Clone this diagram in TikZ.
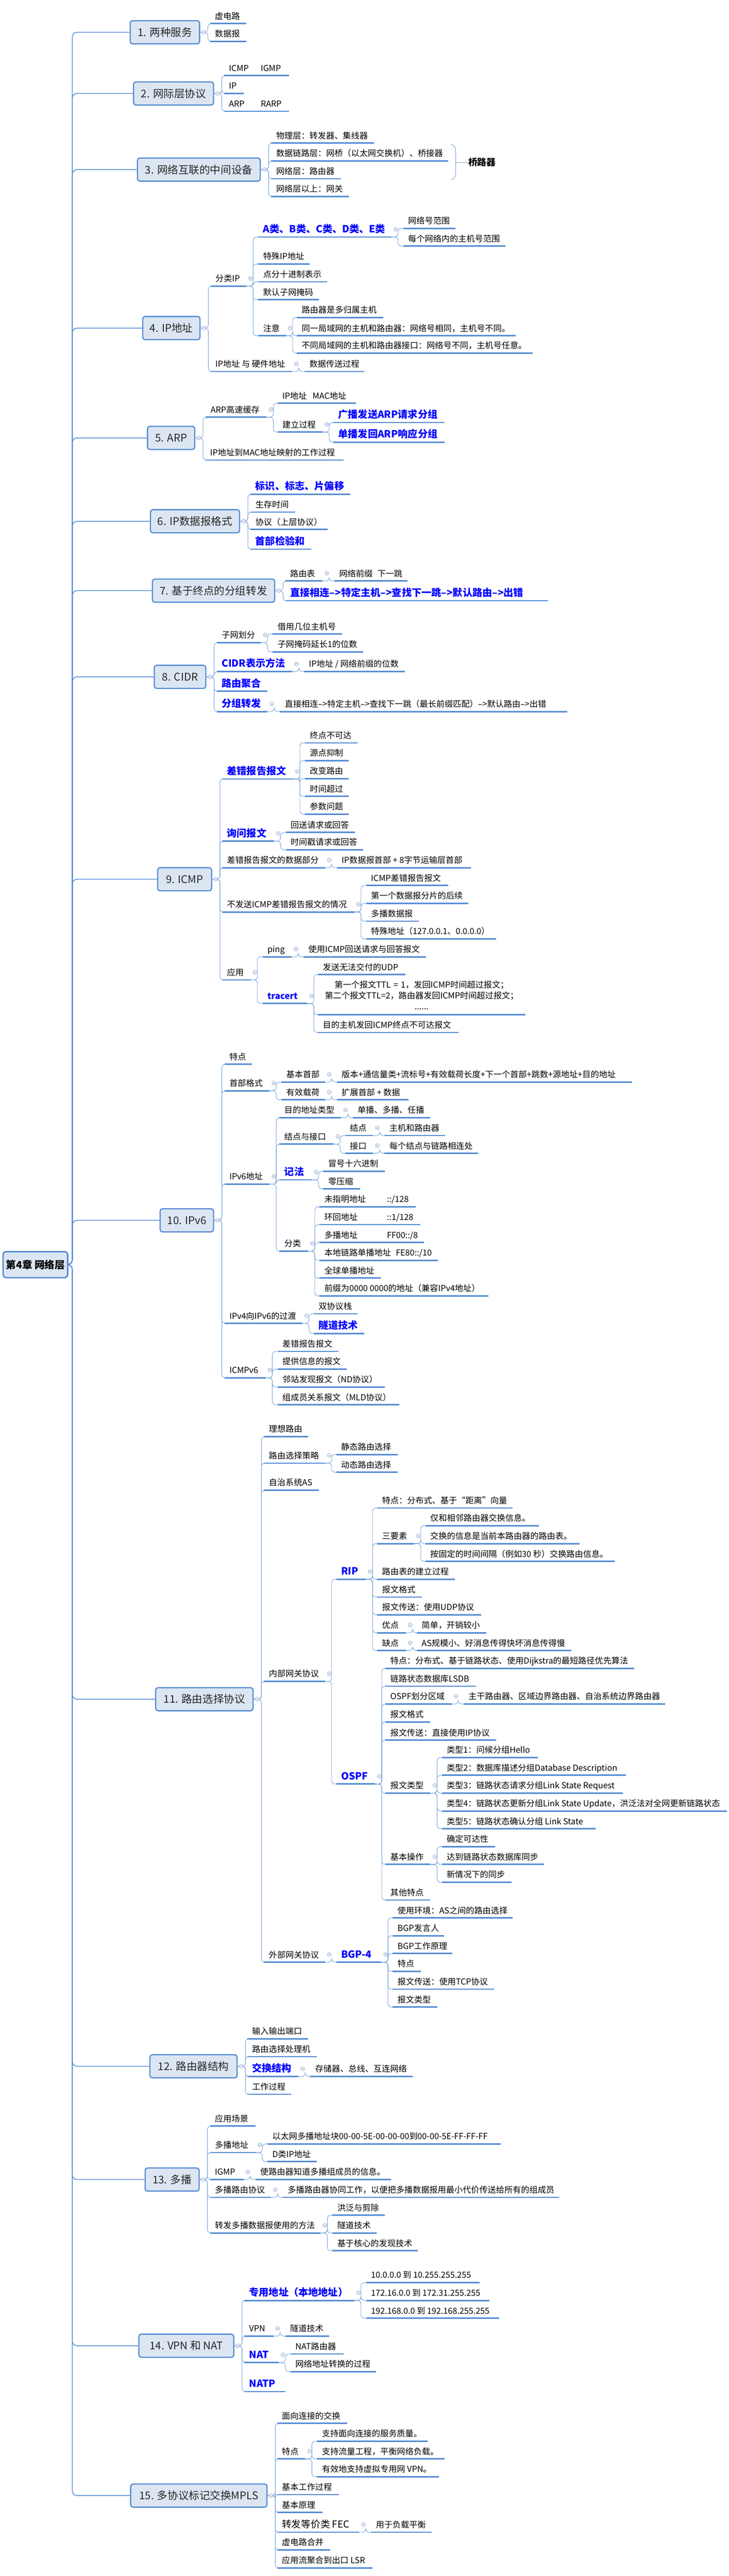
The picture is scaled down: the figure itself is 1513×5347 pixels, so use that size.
\documentclass[tikz,border=0pt]{standalone}
\usepackage{fontspec}
\setmainfont{Noto Sans CJK SC}
\usetikzlibrary{calc}
\definecolor{ulb}{RGB}{86,141,212}
\definecolor{cnb}{RGB}{120,163,220}
\definecolor{boxf}{RGB}{220,230,242}
\definecolor{circ}{RGB}{140,165,205}
\definecolor{btext}{RGB}{0,0,255}
\definecolor{boxt}{RGB}{38,38,38}
\newcommand\fs[1]{\fontsize{#1}{#1}\selectfont}
\newcommand\tp[6][]{\pgfmathsetmacro\tpw{#4-#3-20}\node[topic,#1] (#2) at (#3,#5) {\makebox[\tpw pt][l]{#6}};}
\newcommand\bx[5]{\node[box,minimum width=#4pt] (#1) at (#2,#3) {#5};}
\newcommand\kids[2]{\foreach \c in {#2}{\draw[cn] (#1.south east) -- ++(14,0) |- (\c.south west);}}
\newcommand\bkids[2]{\foreach \c in {#2}{\draw[cn] (#1.east) -- ++(16,0) |- (\c.south west);}}
\newcommand\cu[1]{\node[col] (c-#1) at ([shift={(9,-16)}]#1.south east) {};}
\newcommand\cb[1]{\node[col] (c-#1) at ([xshift=7pt]#1.east) {};}
\begin{document}
\begin{tikzpicture}[x=1pt,y=-1pt,
  ul/.style={draw=ulb,line width=3pt},
  topicbase/.style={anchor=south west,inner xsep=10pt,inner ysep=6pt,
     append after command={(\tikzlastnode.south west) edge[ul] (\tikzlastnode.south east)}},
  topic/.style={topicbase,text height=14pt,text depth=3pt,font=\fs{17.3}},
  bb/.style={font=\fs{20.5}\bfseries,text=btext,text height=16pt},
  cn/.style={draw=cnb,line width=1pt,rounded corners=7pt},
  sp/.style={draw=ulb,line width=1.6pt,rounded corners=10pt},
  box/.style={draw=ulb,line width=2.5pt,fill=boxf,rounded corners=5pt,minimum height=48pt,anchor=west,font=\fs{22},text=boxt,inner xsep=0pt},
  col/.style={circle,draw=circ,fill=white,line width=0.8pt,minimum size=8pt,inner sep=0pt,
     path picture={\draw[circ,line width=0.8pt] ([xshift=-2.3pt]path picture bounding box.center) -- ([xshift=2.3pt]path picture bounding box.center);}}
]
\fill[white] (0,0) rectangle (1513,5347);
\useasboundingbox (0,0) rectangle (1513,5347);

% root
\node[draw=ulb,line width=3pt,fill=boxf,rounded corners=6pt,minimum width=134pt,minimum height=54pt,anchor=west,font=\fs{21}\bfseries,text=black,inner sep=0pt] (root) at (5,2625) {第4章 网络层};

% level-1 boxes
\bx{b1}{269}{67}{144}{1. 两种服务}
\bx{b2}{276}{194}{166}{2. 网际层协议}
\bx{b3}{284}{352}{255}{3. 网络互联的中间设备}
\bx{b4}{295}{681}{119}{4. IP地址}
\bx{b5}{305}{909}{98}{5. ARP}
\bx{b6}{311}{1082}{185}{6. IP数据报格式}
\bx{b7}{315}{1226}{254}{7. 基于终点的分组转发}
\bx{b8}{319}{1405}{107}{8. CIDR}
\bx{b9}{326}{1825}{112}{9. ICMP}
\bx{b10}{331}{2533}{111}{10. IPv6}
\bx{b11}{322}{3527}{202}{11. 路由选择协议}
\bx{b12}{310}{4289}{181}{12. 路由器结构}
\bx{b13}{300}{4524}{112}{13. 多播}
\bx{b14}{287}{4869}{197}{14. VPN 和 NAT}
\bx{b15}{270}{5180}{283}{15. 多协议标记交换MPLS}

\foreach \b in {b1,b2,b3,b4,b5,b6,b7,b8,b9,b10,b11,b12,b13,b14,b15}{\draw[sp] (root.east) -- ++(8,0) |- (\b.west);}

% 1
\tp{t1a}{436}{511}{49}{虚电路}
\tp{t1b}{436}{511}{86}{数据报}
% 2
\tp{t2a}{465}{600}{157}{\makebox[66pt][l]{ICMP}IGMP}
\tp{t2b}{465}{505}{194}{IP}
\tp{t2c}{465}{600}{231}{\makebox[66pt][l]{ARP}RARP}
% 3
\tp{t3a}{563}{776}{297}{物理层：转发器、集线器}
\tp{t3b}{563}{930}{334}{数据链路层：网桥（以太网交换机）、桥接器}
\tp{t3c}{563}{707}{371}{网络层：路由器}
\tp{t3d}{563}{724}{408}{网络层以上：网关}
\node[anchor=west,inner sep=0pt,font=\fs{19}\bfseries] (sum) at (972,337) {桥路器};
\draw[cn,rounded corners=0pt] (936,300) to[out=0,in=90] (946,314) -- (946,359) to[out=-90,in=0] (936,373);
\draw[cn] (946,337) -- (sum.west);
% 4
\tp{t4a}{437}{511}{594}{分类IP}
\tp[bb]{t4a1}{536}{812}{492}{A类、B类、C类、D类、E类}
\tp{t4a1a}{837}{945}{474}{网络号范围}
\tp{t4a1b}{837}{1049}{511}{每个网络内的主机号范围}
\tp{t4a2}{536}{642}{548}{特殊IP地址}
\tp{t4a3}{536}{679}{585}{点分十进制表示}
\tp{t4a4}{536}{662}{622}{默认子网掩码}
\tp{t4a5}{536}{593}{697}{注意}
\tp{t4a5a}{616}{795}{659}{路由器是多归属主机}
\tp{t4a5b}{616}{1070}{697}{同一局域网的主机和路由器：网络号相同，主机号不同。}
\tp{t4a5c}{616}{1105}{733}{不同局域网的主机和路由器接口：网络号不同，主机号任意。}
\tp{t4b}{437}{606}{771}{IP地址 与 硬件地址}
\tp{t4b1}{632}{756}{771}{数据传送过程}
% 5
\tp{t5a}{427}{553}{866}{ARP高速缓存}
\tp{t5a1}{576}{739}{837}{IP地址\hspace{12pt}MAC地址}
\tp{t5a2}{576}{669}{897}{建立过程}
\tp[bb]{t5a2a}{692}{922}{877}{广播发送ARP请求分组}
\tp[bb]{t5a2b}{692}{922}{918}{单播发回ARP响应分组}
\tp{t5b}{426}{713}{955}{IP地址到MAC地址映射的工作过程}
% 6
\tp[bb]{t6a}{520}{727}{1026}{标识、标志、片偏移}
\tp{t6b}{520}{612}{1063}{生存时间}
\tp{t6c}{520}{680}{1099}{协议（上层协议）}
\tp[bb]{t6d}{520}{646}{1140}{首部检验和}
% 7
\tp{t7a}{592}{669}{1206}{路由表}
\tp{t7a1}{694}{846}{1206}{网络前缀\hspace{10pt}下一跳}
\tp[bb]{t7b}{592}{1137}{1247}{直接相连-->特定主机-->查找下一跳-->默认路由-->出错}
% 8
\tp{t8a}{450}{541}{1334}{子网划分}
\tp{t8a1}{566}{710}{1316}{借用几位主机号}
\tp{t8a2}{566}{754}{1353}{子网掩码延长1的位数}
\tp[bb]{t8b}{450}{606}{1394}{CIDR表示方法}
\tp{t8b1}{631}{840}{1394}{IP地址 / 网络前缀的位数}
\tp[bb]{t8c}{450}{555}{1435}{路由聚合}
\tp[bb]{t8d}{450}{555}{1477}{分组转发}
\tp{t8d1}{581}{1177}{1477}{直接相连-->特定主机-->查找下一跳（最长前缀匹配）-->默认路由-->出错}
% 9
\tp[bb]{t9a}{461}{608}{1617}{差错报告报文}
\tp{t9a1}{633}{742}{1542}{终点不可达}
\tp{t9a2}{633}{724}{1579}{源点抑制}
\tp{t9a3}{633}{724}{1616}{改变路由}
\tp{t9a4}{633}{724}{1653}{时间超过}
\tp{t9a5}{633}{724}{1690}{参数问题}
\tp[bb]{t9b}{461}{568}{1746}{询问报文}
\tp{t9b1}{593}{736}{1728}{回送请求或回答}
\tp{t9b2}{593}{754}{1764}{时间戳请求或回答}
\tp{t9c}{461}{674}{1801}{差错报告报文的数据部分}
\tp{t9c1}{699}{977}{1801}{IP数据报首部 + 8字节运输层首部}
\tp{t9d}{461}{735}{1893}{不发送ICMP差错报告报文的情况}
\tp{t9d1}{760}{930}{1838}{ICMP差错报告报文}
\tp{t9d2}{760}{972}{1875}{第一个数据报分片的后续}
\tp{t9d3}{760}{869}{1912}{多播数据报}
\tp{t9d4}{760}{1029}{1949}{特殊地址（127.0.0.1、0.0.0.0）}
\tp{t9e}{461}{520}{2034}{应用}
\tp{t9e1}{545}{605}{1986}{ping}
\tp{t9e1a}{630}{884}{1986}{使用ICMP回送请求与回答报文}
\tp[bb,font=\fs{18}\bfseries]{t9e2}{545}{637}{2083}{tracert}
\tp{t9e2a}{660}{841}{2023}{发送无法交付的UDP}
\node[topicbase,inner ysep=10pt,font=\fontsize{17.3}{22.5}\selectfont,align=center,text width=410pt] (t9e2b) at (660,2106) {第一个报文TTL = 1，发回ICMP时间超过报文；\\第二个报文TTL=2，路由器发回ICMP时间超过报文；\\......};
\tp{t9e2c}{660}{951}{2143}{目的主机发回ICMP终点不可达报文}
% 10
\tp{t10a}{466}{523}{2209}{特点}
\tp{t10b}{466}{559}{2264}{首部格式}
\tp{t10b1}{584}{674}{2246}{基本首部}
\tp{t10b1a}{699}{1312}{2246}{版本+通信量类+流标号+有效载荷长度+下一个首部+跳数+源地址+目的地址}
\tp{t10b2}{584}{674}{2283}{有效载荷}
\tp{t10b2a}{699}{848}{2283}{扩展首部 + 数据}
\tp{t10c}{466}{559}{2458}{IPv6地址}
\tp{t10c1}{580}{708}{2320}{目的地址类型}
\tp{t10c1a}{732}{893}{2320}{单播、多播、任播}
\tp{t10c2}{580}{692}{2375}{结点与接口}
\tp{t10c2a}{716}{774}{2357}{结点}
\tp{t10c2a1}{798}{924}{2357}{主机和路由器}
\tp{t10c2b}{716}{774}{2394}{接口}
\tp{t10c2b1}{798}{992}{2394}{每个结点与链路相连处}
\tp[bb]{t10c3}{580}{647}{2449}{记法}
\tp{t10c3a}{671}{798}{2431}{冒号十六进制}
\tp{t10c3b}{671}{747}{2468}{零压缩}
\tp{t10c4}{580}{639}{2597}{分类}
\tp{t10c4a}{663}{863}{2505}{\makebox[130pt][l]{未指明地址}::/128}
\tp{t10c4b}{663}{872}{2542}{\makebox[130pt][l]{环回地址}::1/128}
\tp{t10c4c}{663}{880}{2579}{\makebox[130pt][l]{多播地址}FF00::/8}
\tp{t10c4d}{663}{909}{2616}{本地链路单播地址\hspace{10pt}FE80::/10}
\tp{t10c4e}{663}{790}{2653}{全球单播地址}
\tp{t10c4f}{663}{1013}{2690}{前缀为0000 0000的地址（兼容IPv4地址）}
\tp{t10d}{466}{627}{2747}{IPv4向IPv6的过渡}
\tp{t10d1}{651}{742}{2727}{双协议栈}
\tp[bb]{t10d2}{651}{756}{2768}{隧道技术}
\tp{t10e}{466}{551}{2860}{ICMPv6}
\tp{t10e1}{576}{702}{2805}{差错报告报文}
\tp{t10e2}{576}{719}{2842}{提供信息的报文}
\tp{t10e3}{576}{798}{2879}{邻站发现报文（ND协议）}
\tp{t10e4}{576}{828}{2916}{组成员关系报文（MLD协议）}
% 11
\tp{t11a}{548}{639}{2982}{理想路由}
\tp{t11b}{548}{674}{3037}{路由选择策略}
\tp{t11b1}{698}{825}{3019}{静态路由选择}
\tp{t11b2}{698}{825}{3056}{动态路由选择}
\tp{t11c}{548}{662}{3093}{自治系统AS}
\tp{t11d}{548}{674}{3490}{内部网关协议}
\tp[bb]{t11d1}{698}{759}{3278}{RIP}
\tp{r1}{783}{1064}{3130}{特点：分布式、基于“距离”向量}
\tp{r2}{783}{859}{3204}{三要素}
\tp{r2a}{883}{1118}{3167}{仅和相邻路由器交换信息。}
\tp{r2b}{883}{1203}{3204}{交换的信息是当前本路由器的路由表。}
\tp{r2c}{883}{1275}{3241}{按固定的时间间隔（例如30 秒）交换路由信息。}
\tp{r3}{783}{944}{3278}{路由表的建立过程}
\tp{r4}{783}{875}{3315}{报文格式}
\tp{r5}{783}{998}{3352}{报文传送：使用UDP协议}
\tp{r6}{783}{842}{3389}{优点}
\tp{r6a}{865}{1009}{3389}{简单，开销较小}
\tp{r7}{783}{842}{3426}{缺点}
\tp{r7a}{865}{1186}{3426}{AS规模小、好消息传得快坏消息传得慢}
\tp[bb]{t11d2}{698}{778}{3703}{OSPF}
\tp{o1}{800}{1316}{3463}{特点：分布式、基于链路状态、使用Dijkstra的最短路径优先算法}
\tp{o2}{800}{988}{3500}{链路状态数据库LSDB}
\tp{o3}{800}{937}{3537}{OSPF划分区域}
\tp{o3a}{962}{1380}{3537}{主干路由器、区域边界路由器、自治系统边界路由器}
\tp{o4}{800}{893}{3574}{报文格式}
\tp{o5}{800}{1029}{3612}{报文传送：直接使用IP协议}
\tp{o6}{800}{893}{3722}{报文类型}
\tp{o6a}{917}{1116}{3648}{类型1：问候分组Hello}
\tp{o6b}{917}{1299}{3685}{类型2：数据库描述分组Database Description}
\tp{o6c}{917}{1293}{3722}{类型3：链路状态请求分组Link State Request}
\tp{o6d}{917}{1509}{3759}{类型4：链路状态更新分组Link State Update，洪泛法对全网更新链路状态}
\tp{o6e}{917}{1236}{3796}{类型5：链路状态确认分组 Link State}
\tp{o7}{800}{893}{3870}{基本操作}
\tp{o7a}{917}{1027}{3833}{确定可达性}
\tp{o7b}{917}{1129}{3870}{达到链路状态数据库同步}
\tp{o7c}{917}{1061}{3907}{新情况下的同步}
\tp{o8}{800}{893}{3944}{其他特点}
\tp{t11e}{548}{674}{4073}{外部网关协议}
\tp[bb]{t11e1}{698}{791}{4073}{BGP-4}
\tp{g1}{815}{1064}{3981}{使用环境：AS之间的路由选择}
\tp{g2}{815}{921}{4018}{BGP发言人}
\tp{g3}{815}{939}{4055}{BGP工作原理}
\tp{g4}{815}{873}{4092}{特点}
\tp{g5}{815}{1025}{4129}{报文传送：使用TCP协议}
\tp{g6}{815}{908}{4166}{报文类型}
% 12
\tp{t12a}{513}{639}{4232}{输入输出端口}
\tp{t12b}{513}{657}{4269}{路由选择处理机}
\tp[bb]{t12c}{513}{619}{4310}{交换结构}
\tp{t12c1}{644}{856}{4310}{存储器、总线、互连网络}
\tp{t12d}{513}{604}{4347}{工作过程}
% 13
\tp{t13a}{436}{530}{4413}{应用场景}
\tp{t13b}{436}{530}{4468}{多播地址}
\tp{t13b1}{555}{1039}{4450}{以太网多播地址块00-00-5E-00-00-00到00-00-5E-FF-FF-FF}
\tp{t13b2}{555}{657}{4487}{D类IP地址}
\tp{t13c}{436}{505}{4524}{IGMP}
\tp{t13c1}{530}{811}{4524}{使路由器知道多播组成员的信息。}
\tp{t13d}{436}{562}{4561}{多播路由协议}
\tp{t13d1}{587}{1160}{4561}{多播路由器协同工作，以便把多播数据报用最小代价传送给所有的组成员}
\tp{t13e}{436}{665}{4635}{转发多播数据报使用的方法}
\tp{t13e1}{690}{798}{4598}{洪泛与剪除}
\tp{t13e2}{690}{781}{4635}{隧道技术}
\tp{t13e3}{690}{867}{4672}{基于核心的发现技术}
% 14
\tp[bb]{t14a}{507}{735}{4775}{专用地址（本地地址）}
\tp{t14a1}{760}{995}{4738}{10.0.0.0 到 10.255.255.255}
\tp{t14a2}{760}{1015}{4775}{172.16.0.0 到 172.31.255.255}
\tp{t14a3}{760}{1036}{4812}{192.168.0.0 到 192.168.255.255}
\tp{t14b}{507}{567}{4849}{VPN}
\tp{t14b1}{592}{683}{4849}{隧道技术}
\tp[bb]{t14c}{507}{578}{4904}{NAT}
\tp{t14c1}{603}{713}{4886}{NAT路由器}
\tp{t14c2}{603}{780}{4923}{网络地址转换的过程}
\tp[bb]{t14d}{507}{592}{4964}{NATP}
% 15
\tp{t15a}{575}{720}{5030}{面向连接的交换}
\tp{t15b}{575}{633}{5104}{特点}
\tp{t15b1}{658}{887}{5067}{支持面向连接的服务质量。}
\tp{t15b2}{658}{922}{5104}{支持流量工程，平衡网络负载。}
\tp{t15b3}{658}{911}{5141}{有效地支持虚拟专用网 VPN。}
\tp{t15c}{575}{703}{5178}{基本工作过程}
\tp{t15d}{575}{669}{5215}{基本原理}
\tp[font=\fs{20}]{t15e}{575}{745}{5256}{转发等价类 FEC}
\tp{t15e1}{770}{896}{5256}{用于负载平衡}
\tp{t15f}{575}{685}{5293}{虚电路合并}
\tp{t15g}{575}{773}{5330}{应用流聚合到出口 LSR}

% connectors from boxes
\bkids{b1}{t1a,t1b}
\bkids{b2}{t2a,t2b,t2c}
\bkids{b3}{t3a,t3b,t3c,t3d}
\bkids{b4}{t4a,t4b}
\bkids{b5}{t5a,t5b}
\bkids{b6}{t6a,t6b,t6c,t6d}
\bkids{b7}{t7a,t7b}
\bkids{b8}{t8a,t8b,t8c,t8d}
\bkids{b9}{t9a,t9b,t9c,t9d,t9e}
\bkids{b10}{t10a,t10b,t10c,t10d,t10e}
\bkids{b11}{t11a,t11b,t11c,t11d,t11e}
\bkids{b12}{t12a,t12b,t12c,t12d}
\bkids{b13}{t13a,t13b,t13c,t13d,t13e}
\bkids{b14}{t14a,t14b,t14c,t14d}
\bkids{b15}{t15a,t15b,t15c,t15d,t15e,t15f,t15g}
% connectors from topics
\kids{t4a}{t4a1,t4a2,t4a3,t4a4,t4a5}
\kids{t4a1}{t4a1a,t4a1b}
\kids{t4a5}{t4a5a,t4a5b,t4a5c}
\kids{t4b}{t4b1}
\kids{t5a}{t5a1,t5a2}
\kids{t5a2}{t5a2a,t5a2b}
\kids{t7a}{t7a1}
\kids{t8a}{t8a1,t8a2}
\kids{t8b}{t8b1}
\kids{t8d}{t8d1}
\kids{t9a}{t9a1,t9a2,t9a3,t9a4,t9a5}
\kids{t9b}{t9b1,t9b2}
\kids{t9c}{t9c1}
\kids{t9d}{t9d1,t9d2,t9d3,t9d4}
\kids{t9e}{t9e1,t9e2}
\kids{t9e1}{t9e1a}
\kids{t9e2}{t9e2a,t9e2b,t9e2c}
\kids{t10b}{t10b1,t10b2}
\kids{t10b1}{t10b1a}
\kids{t10b2}{t10b2a}
\kids{t10c}{t10c1,t10c2,t10c3,t10c4}
\kids{t10c1}{t10c1a}
\kids{t10c2}{t10c2a,t10c2b}
\kids{t10c2a}{t10c2a1}
\kids{t10c2b}{t10c2b1}
\kids{t10c3}{t10c3a,t10c3b}
\kids{t10c4}{t10c4a,t10c4b,t10c4c,t10c4d,t10c4e,t10c4f}
\kids{t10d}{t10d1,t10d2}
\kids{t10e}{t10e1,t10e2,t10e3,t10e4}
\kids{t11b}{t11b1,t11b2}
\kids{t11d}{t11d1,t11d2}
\kids{t11d1}{r1,r2,r3,r4,r5,r6,r7}
\kids{r2}{r2a,r2b,r2c}
\kids{r6}{r6a}
\kids{r7}{r7a}
\kids{t11d2}{o1,o2,o3,o4,o5,o6,o7,o8}
\kids{o3}{o3a}
\kids{o6}{o6a,o6b,o6c,o6d,o6e}
\kids{o7}{o7a,o7b,o7c}
\kids{t11e}{t11e1}
\kids{t11e1}{g1,g2,g3,g4,g5,g6}
\kids{t12c}{t12c1}
\kids{t13b}{t13b1,t13b2}
\kids{t13c}{t13c1}
\kids{t13d}{t13d1}
\kids{t13e}{t13e1,t13e2,t13e3}
\kids{t14a}{t14a1,t14a2,t14a3}
\kids{t14b}{t14b1}
\kids{t14c}{t14c1,t14c2}
\kids{t15b}{t15b1,t15b2,t15b3}
\kids{t15e}{t15e1}

% collapse circles
\foreach \b in {b1,b2,b3,b4,b5,b6,b7,b8,b9,b10,b11,b12,b13,b14,b15}{\cb{\b}}
\foreach \p in {t4a,t4a1,t4a5,t4b,t5a,t5a2,t7a,t8a,t8b,t8d,t9a,t9b,t9c,t9d,t9e,t9e1,t9e2,t10b,t10b1,t10b2,t10c,t10c1,t10c2,t10c2a,t10c2b,t10c3,t10c4,t10d,t10e,t11b,t11d,t11d1,r2,r6,r7,t11d2,o3,o6,o7,t11e,t11e1,t12c,t13b,t13c,t13d,t13e,t14a,t14b,t14c,t15b,t15e}{\cu{\p}}
\end{tikzpicture}
\end{document}
